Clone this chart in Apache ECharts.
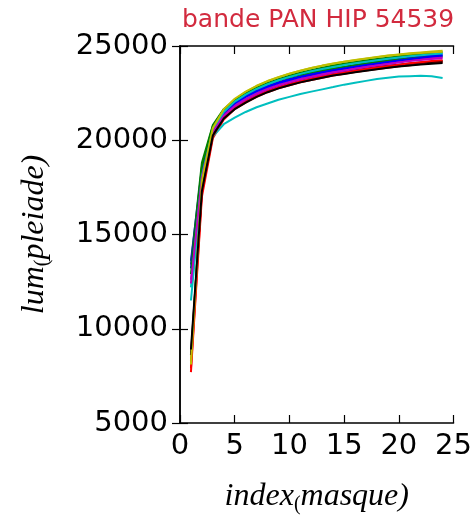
<!DOCTYPE html>
<html>
<head>
<meta charset="utf-8">
<script src="https://cdn.jsdelivr.net/npm/echarts@6/dist/echarts.min.js"></script>
<style>html,body{margin:0;padding:0;background:#fff;}#c{width:475px;height:520px;}</style>
</head>
<body>
<div id="c"></div>
<script>
const titleText = 'bande PAN HIP 54539';
const xIndex = [1,2,3,4,5,6,7,8,9,10,11,12,13,14,15,16,17,18,19,20,21,22,23,24];
const xTicks = [0,5,10,15,20,25];
const yTicks = [5000,10000,15000,20000,25000];

const b1 = [13600,18500,20700,21500,22000,22350,22650,22880,23080,23250,23400,23530,23660,23780,23880,23980,24070,24160,24240,24310,24380,24440,24500,24550];
const g1 = [13400,18800,20800,21650,22150,22500,22780,23000,23180,23340,23480,23600,23710,23810,23900,23990,24070,24150,24220,24280,24330,24380,24420,24450];
const r1 = [7700,17000,20100,21100,21650,22000,22300,22550,22750,22920,23070,23200,23320,23430,23530,23620,23700,23780,23850,23920,23980,24040,24100,24150];
const c1 = [11500,17600,20200,20850,21200,21500,21750,21950,22150,22300,22450,22580,22700,22820,22950,23050,23150,23250,23320,23380,23400,23420,23400,23300];
const m1 = [12600,18200,20500,21350,21850,22200,22500,22750,22950,23120,23270,23410,23540,23650,23760,23860,23950,24030,24110,24180,24250,24310,24360,24400];
const y1 = [8300,17600,20600,21600,22150,22550,22870,23130,23350,23530,23690,23830,23960,24070,24170,24260,24340,24420,24490,24550,24610,24660,24710,24750];
const k1 = [8600,17400,20300,21250,21750,22100,22400,22650,22850,23020,23170,23300,23420,23530,23630,23720,23800,23880,23950,24010,24070,24120,24160,24200];
const b2 = [13200,18300,20600,21450,21950,22300,22600,22830,23030,23200,23350,23480,23600,23710,23810,23900,23990,24070,24150,24230,24300,24370,24440,24500];
const g2 = [12900,18600,20750,21600,22100,22480,22780,23030,23240,23420,23580,23720,23850,23960,24060,24150,24230,24310,24380,24450,24510,24560,24610,24650];
const r2 = [7900,17200,20200,21200,21700,22050,22350,22600,22800,22980,23130,23270,23390,23500,23600,23690,23780,23860,23940,24010,24080,24140,24200,24250];
const c2 = [12200,18100,20550,21500,22050,22420,22720,22970,23180,23360,23520,23660,23780,23890,23990,24080,24170,24250,24320,24390,24450,24510,24560,24600];
const m2 = [12400,18000,20450,21300,21800,22150,22450,22700,22900,23070,23220,23360,23480,23590,23690,23790,23880,23970,24050,24130,24200,24260,24310,24350];
const y2 = [8100,17800,20650,21650,22200,22580,22890,23140,23350,23530,23690,23830,23950,24060,24160,24250,24330,24410,24480,24540,24590,24630,24670,24700];
const k2 = [8900,17300,20250,21150,21650,22000,22300,22550,22750,22920,23070,23200,23320,23430,23520,23610,23690,23770,23840,23910,23970,24020,24060,24100];

const seriesList = [b1,g1,r1,c1,m1,y1,k1,b2,g2,r2,c2,m2,y2,k2];
const colors = ['#0000ff','#008000','#ff0000','#00bfbf','#bf00bf','#bfbf00','#000000'];

const chart = echarts.init(document.getElementById('c'), null, {renderer:'canvas'});
const tickFont = {fontFamily:'DejaVu Sans', fontSize:29, color:'#000'};
const axisLine = {show:true, lineStyle:{color:'#000', width:1.5}};
const axisTick = {show:true, inside:true, length:8, lineStyle:{color:'#000', width:1.2}};
const nameRich = {
  a:{fontFamily:'Liberation Serif', fontStyle:'italic', fontSize:32, color:'#000'},
  s:{fontFamily:'Liberation Serif', fontSize:20, color:'#000', padding:[16,0,0,0]}
};

const option = {
  animation:false,
  backgroundColor:'#fff',
  title:{text:titleText, left:177, top:3, textStyle:{fontFamily:'DejaVu Sans', fontSize:25, fontWeight:'normal', color:'#d22a3e'}},
  grid:{left:180, right:18, top:46, bottom:95},
  xAxis:[
    {type:'value', min:0, max:25, interval:5, position:'bottom',
     axisLine, axisTick, splitLine:{show:false},
     axisLabel:Object.assign({margin:9, formatter:v=>xTicks.includes(v)?String(v):''}, tickFont),
     name:'{a|index}{s|(}{a|masque)}', nameLocation:'middle', nameGap:56,
     nameTextStyle:{rich:nameRich}},
    {type:'value', min:0, max:25, interval:5, position:'top',
     axisLine, axisTick, splitLine:{show:false}, axisLabel:{show:false}}
  ],
  yAxis:[
    {type:'value', min:5000, max:25000, interval:5000, position:'left',
     axisLine, axisTick, splitLine:{show:false},
     axisLabel:Object.assign({margin:12, formatter:v=>yTicks.includes(v)?String(v):''}, tickFont),
     name:'{a|lum}{s|(}{a|pleiade)}', nameLocation:'middle', nameGap:127, nameRotate:90,
     nameTextStyle:{rich:nameRich}},
    {type:'value', min:5000, max:25000, interval:5000, position:'right',
     axisLine, axisTick, splitLine:{show:false}, axisLabel:{show:false}}
  ],
  series: seriesList.map((arr,i)=>({
    type:'line', xAxisIndex:0, yAxisIndex:0, showSymbol:false, symbol:'none',
    data: xIndex.map((x,j)=>[x, arr[j]]),
    lineStyle:{color:colors[i%7], width:2}, itemStyle:{color:colors[i%7]}
  }))
};
chart.setOption(option);
</script>
</body>
</html>
